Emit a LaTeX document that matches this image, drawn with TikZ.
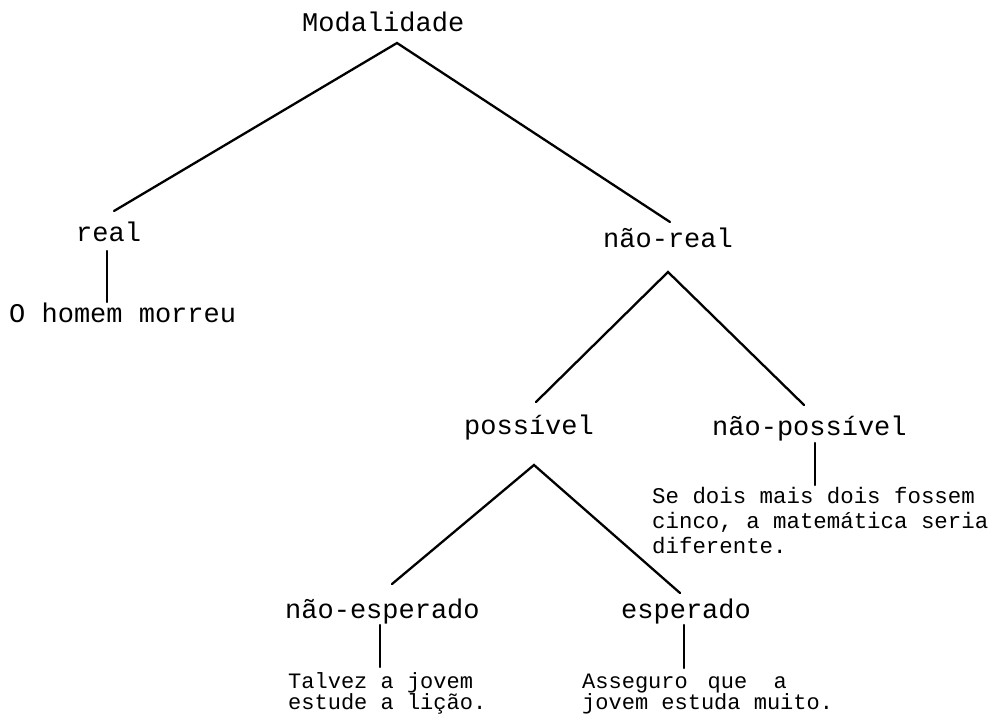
\documentclass[tikz,border=0pt]{standalone}
\usepackage{fontspec}
\setmainfont{Liberation Mono}
\begin{document}
\begin{tikzpicture}[x=1pt,y=-1pt,
  lbl/.style={inner sep=0pt,anchor=base west,font=\fontsize{27}{30}\selectfont},
  sent/.style={inner sep=0pt,anchor=base west,align=left,font=\fontsize{22.4}{25}\selectfont},
  sentb/.style={sent,font=\fontsize{22}{21}\selectfont},
  edge/.style={line width=2.3pt,line cap=round,line join=miter}]
\useasboundingbox (0,0) rectangle (990,719);
% labels
\node[lbl] (mod) at (302,32) {Modalidade};
\node[lbl] (real) at (76,242) {real};
\node[lbl] (homem) at (9,322) {O homem morreu};
\node[lbl] (nreal) at (603,248) {não-real};
\node[lbl] (poss) at (464,434) {possível};
\node[lbl] (nposs) at (712,435) {não-possível};
\node[lbl] (nesp) at (285,618) {não-esperado};
\node[lbl] (esp) at (621,618) {esperado};
% sentences (base anchor = baseline of last line)
\node[sent] (se) at (652,553) {Se dois mais dois fossem\\cinco, a matemática seria\\diferente.};
\node[sentb] (talvez) at (288,709) {Talvez a jovem\\estude a lição.};
\node[sentb] (asseg) at (582,709) {Asseguro\hspace{0.3em} que\hspace{0.6em} a\\jovem estuda muito.};
% connector end points
\coordinate (modB) at (397,43);
\coordinate (realT) at (114,211);
\coordinate (nrealT) at (670,222);
\coordinate (realB) at (107,251);
\coordinate (homemT) at (107,302);
\coordinate (nrealB) at (668,272);
\coordinate (possT) at (536,402);
\coordinate (npossT) at (804,405);
\coordinate (npossB) at (815,443);
\coordinate (seT) at (815,485);
\coordinate (possB) at (534,465);
\coordinate (nespT) at (392,584);
\coordinate (espT) at (680,593);
\coordinate (nespB) at (380,625);
\coordinate (talvezT) at (380,667);
\coordinate (espB) at (684,625);
\coordinate (assegT) at (684,668);
% connectors
\draw[edge] (realT) -- (modB) -- (nrealT);
\draw[edge] (realB) -- (homemT);
\draw[edge] (possT) -- (nrealB) -- (npossT);
\draw[edge] (npossB) -- (seT);
\draw[edge] (nespT) -- (possB) -- (espT);
\draw[edge] (nespB) -- (talvezT);
\draw[edge] (espB) -- (assegT);
\end{tikzpicture}
\end{document}
